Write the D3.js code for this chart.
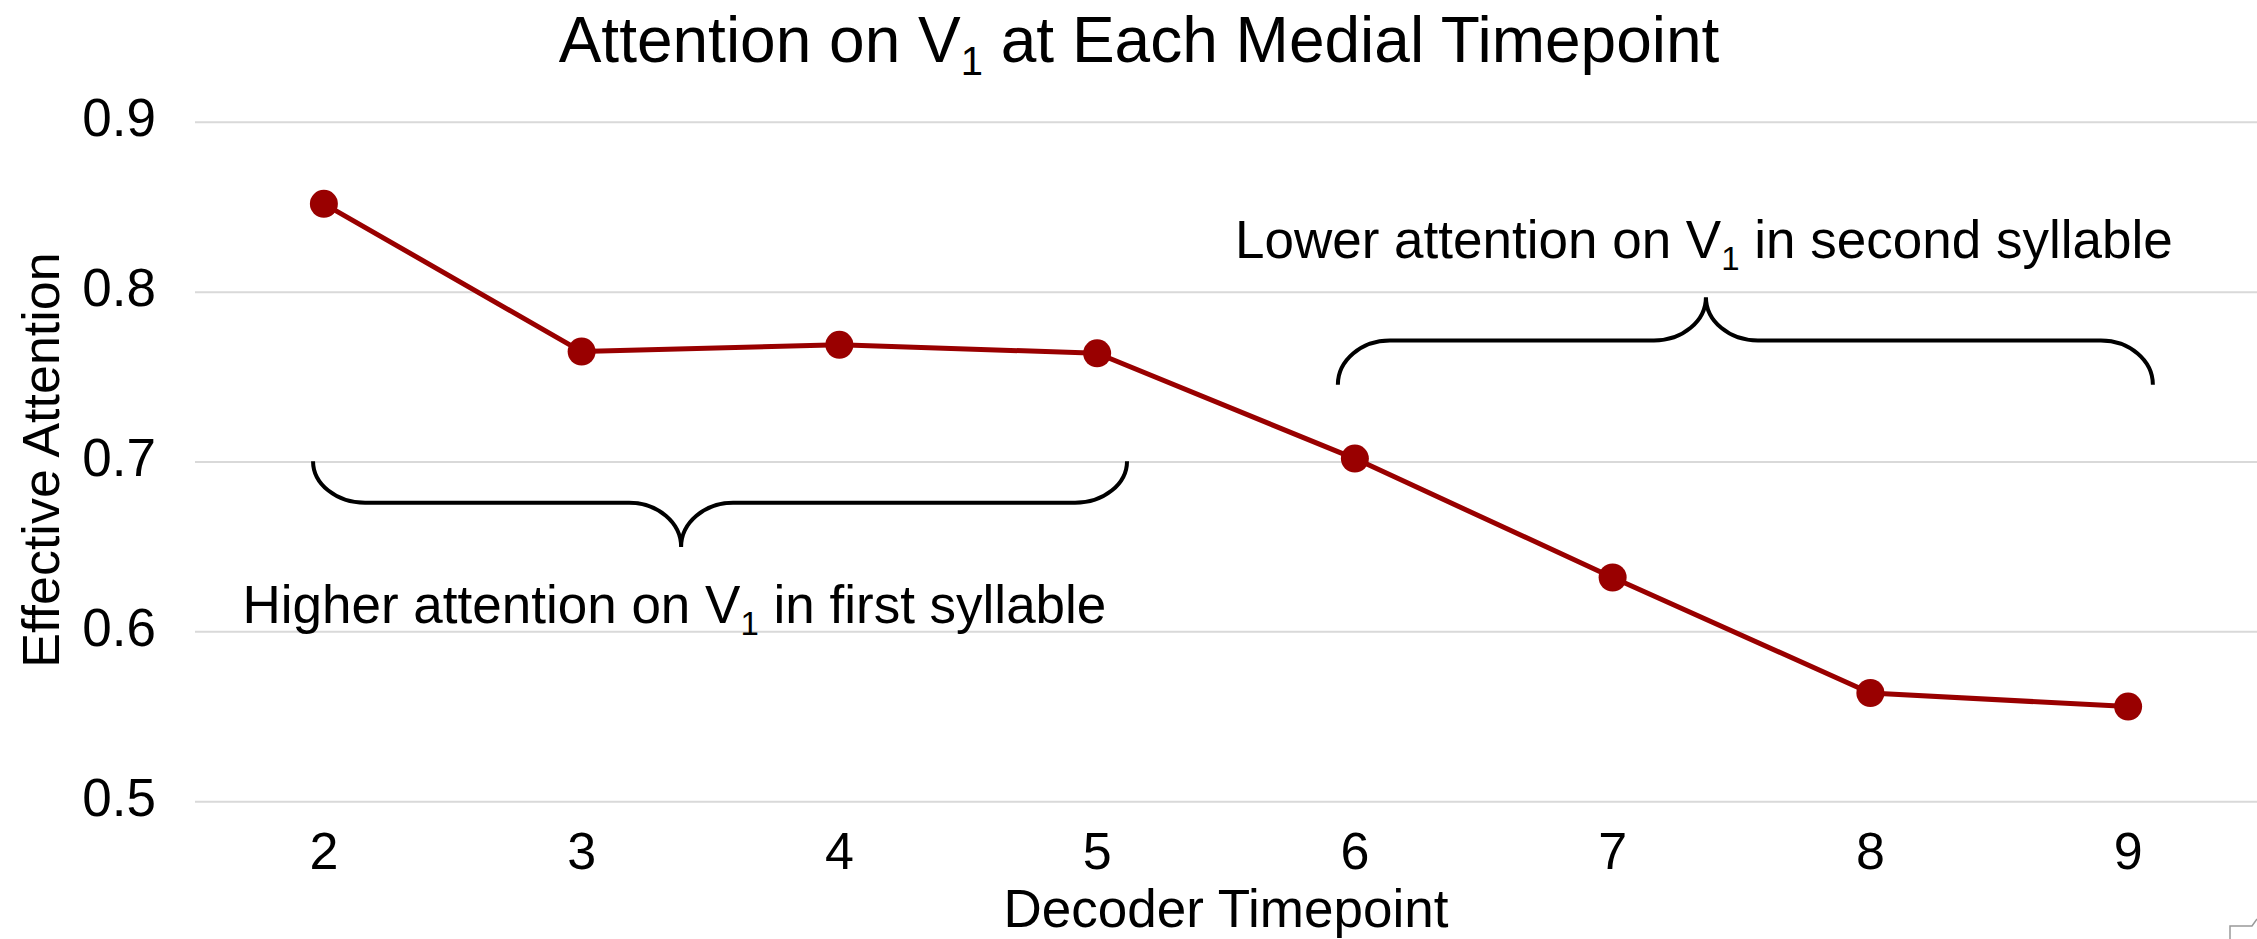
<!DOCTYPE html>
<html>
<head>
<meta charset="utf-8">
<script src="https://cdn.jsdelivr.net/npm/d3@7"></script>
<style>
	body { margin: 0; background: #fff; }
	text { font-family: "Liberation Sans", Arial, Helvetica, sans-serif; fill: #000; }
	.grid { stroke: #d9d9d9; stroke-width: 2; }
	.series { fill: none; stroke: #990000; stroke-width: 5; stroke-linejoin: round; }
	.dots { fill: #990000; }
	.brace { fill: none; stroke: #000; stroke-width: 4; }
</style>
</head>
<body>
<svg id="chart" width="2257" height="939"></svg>
<script>
var timepoints = [2, 3, 4, 5, 6, 7, 8, 9];
var attention = [0.852, 0.765, 0.769, 0.764, 0.702, 0.632, 0.564, 0.556];
var yTicks = [0.5, 0.6, 0.7, 0.8, 0.9];

// braces in data units: [from, to, tip] along x, [end, mid, tip] along y
var braces = [
	{ x: [1.958, 5.116, 3.386], y: [0.7005, 0.676, 0.650] },
	{ x: [5.934, 9.096, 7.362], y: [0.7455, 0.7715, 0.797] }
];
var notes = [
	{ x: 3.36, y: 0.6055, pre: 'Higher attention on V', post: ' in first syllable' },
	{ x: 7.354, y: 0.820, pre: 'Lower attention on V', post: ' in second syllable' }
];

var svg = d3.select('#chart');
var W = 2257, plotLeft = 195, plotTop = 122.3, plotBottom = 801.7;

var x = d3.scalePoint()
	.domain(timepoints)
	.range([plotLeft, W])
	.padding(0.5);
var xLin = d3.scaleLinear()
	.domain([1.5, 9.5])
	.range([plotLeft, W]);
var y = d3.scaleLinear()
	.domain([0.5, 0.9])
	.range([plotBottom, plotTop]);

svg.selectAll('.grid')
	.data(yTicks)
	.enter()
	.append('line')
	.attr('class', 'grid')
	.attr('x1', plotLeft)
	.attr('x2', W)
	.attr('y1', function(d){ return y(d) })
	.attr('y2', function(d){ return y(d) });

svg.selectAll('.ytick')
	.data(yTicks)
	.enter()
	.append('text')
	.attr('class', 'ytick')
	.attr('x', 156)
	.attr('y', function(d){ return y(d) + 14 })
	.attr('text-anchor', 'end')
	.style('font-size', '53px')
	.text(d3.format('.1f'));

svg.selectAll('.xtick')
	.data(timepoints)
	.enter()
	.append('text')
	.attr('class', 'xtick')
	.attr('x', function(d){ return x(d) })
	.attr('y', 869)
	.attr('text-anchor', 'middle')
	.style('font-size', '52px')
	.text(function(d){ return d });

var line = d3.line()
	.x(function(d, i){ return x(timepoints[i]) })
	.y(function(d){ return y(d) });

svg.append('path')
	.datum(attention)
	.attr('class', 'series')
	.attr('d', line);

svg.selectAll('.dots')
	.data(attention)
	.enter()
	.append('circle')
	.attr('class', 'dots')
	.attr('r', 14)
	.attr('cx', function(d, i){ return x(timepoints[i]) })
	.attr('cy', function(d){ return y(d) });

function bracePath(b){
	var xl = xLin(b.x[0]), xr = xLin(b.x[1]), xt = xLin(b.x[2]);
	var ye = y(b.y[0]), ym = y(b.y[1]), yt = y(b.y[2]);
	var r = 52, k = 0.55;
	var p = d3.path();
	p.moveTo(xl, ye);
	p.bezierCurveTo(xl, ye + k * (ym - ye), xl + r * (1 - k), ym, xl + r, ym);
	p.lineTo(xt - r, ym);
	p.bezierCurveTo(xt - r * (1 - k), ym, xt, yt - k * (yt - ym), xt, yt);
	p.bezierCurveTo(xt, yt - k * (yt - ym), xt + r * (1 - k), ym, xt + r, ym);
	p.lineTo(xr - r, ym);
	p.bezierCurveTo(xr - r * (1 - k), ym, xr, ye + k * (ym - ye), xr, ye);
	return p.toString();
}

svg.selectAll('.brace')
	.data(braces)
	.enter()
	.append('path')
	.attr('class', 'brace')
	.attr('d', bracePath);

function subText(sel, subSize, shift){
	sel.append('tspan').text(function(d){ return d.pre });
	sel.append('tspan')
		.attr('dy', shift)
		.style('font-size', subSize)
		.text('1');
	sel.append('tspan')
		.attr('dy', -shift)
		.text(function(d){ return d.post });
}

svg.selectAll('.note')
	.data(notes)
	.enter()
	.append('text')
	.attr('class', 'note')
	.attr('x', function(d){ return xLin(d.x) })
	.attr('y', function(d){ return y(d.y) })
	.attr('text-anchor', 'middle')
	.style('font-size', '53px')
	.call(subText, '33px', 12);

svg.selectAll('.title')
	.data([{ pre: 'Attention on V', post: ' at Each Medial Timepoint' }])
	.enter()
	.append('text')
	.attr('class', 'title')
	.attr('x', 1139)
	.attr('y', 62)
	.attr('text-anchor', 'middle')
	.style('font-size', '64px')
	.call(subText, '40px', 13);

svg.append('text')
	.attr('x', 1226)
	.attr('y', 927)
	.attr('text-anchor', 'middle')
	.style('font-size', '53px')
	.text('Decoder Timepoint');

svg.append('text')
	.attr('transform', 'translate(59,460) rotate(-90)')
	.attr('text-anchor', 'middle')
	.style('font-size', '52px')
	.text('Effective Attention');

svg.append('path')
	.attr('d', 'M2230,939V926H2252L2257,919')
	.attr('fill', 'none')
	.attr('stroke', '#999')
	.attr('stroke-width', 1.5);
</script>
</body>
</html>
